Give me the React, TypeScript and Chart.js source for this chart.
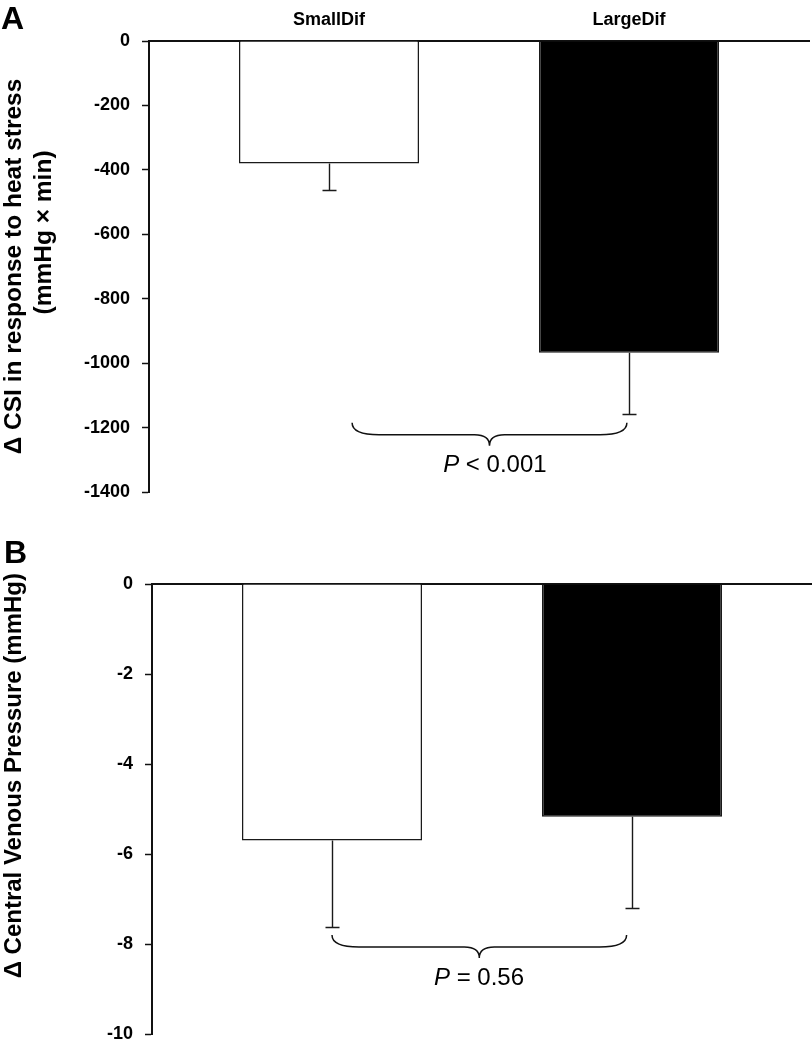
import React, { useEffect, useRef } from 'react';
import { Chart, registerables } from 'chart.js';

Chart.register(...registerables);

// ---------- data ----------
const categories = ['SmallDif', 'LargeDif'];
const barColors = ['#ffffff', '#000000'];

// Panel A: Δ CSI (mmHg × min)
const csiMeans = [-380, -968];
const csiErrors = [84, 189];
const csiTicks = [0, -200, -400, -600, -800, -1000, -1200, -1400];
const csiTitle = ['Δ CSI in response to heat stress', '          (mmHg × min)'];
const csiPLabel = ['P', ' < 0.001'];

// Panel B: Δ Central Venous Pressure (mmHg)
const cvpMeans = [-5.7, -5.17];
const cvpErrors = [1.92, 2.03];
const cvpTicks = [0, -2, -4, -6, -8, -10];
const cvpTitle = '          Δ Central Venous Pressure (mmHg)';
const cvpPLabel = ['P', ' = 0.56'];

const FONT = '"Liberation Sans", Arial, Helvetica, sans-serif';

const extrasPlugin = {
  id: 'panelExtras',
  afterDraw(chart: any, _args: any, opts: any) {
    const { ctx } = chart;
    const xs = chart.scales.x;
    const ys = chart.scales.y;
    const meta = chart.getDatasetMeta(0);
    const pts = chart.data.datasets[0].data as any[];
    ctx.save();
    // error bars (downward)
    ctx.strokeStyle = '#1a1a1a';
    ctx.lineWidth = 1.4;
    meta.data.forEach((bar: any, i: number) => {
      const m = pts[i].y;
      const e = opts.errors[i];
      const x = Math.round(bar.x) + 0.5;
      const y0 = ys.getPixelForValue(m);
      const y1 = Math.round(ys.getPixelForValue(m - e)) + 0.5;
      ctx.beginPath();
      ctx.moveTo(x, y0);
      ctx.lineTo(x, y1);
      ctx.moveTo(x - 7, y1);
      ctx.lineTo(x + 7, y1);
      ctx.stroke();
    });
    // curly brace
    const b = opts.brace;
    const xl = xs.getPixelForValue(b.from);
    const xr = xs.getPixelForValue(b.to);
    const yt = ys.getPixelForValue(b.y);
    const xm = (xl + xr) / 2;
    const y1 = yt + 12;
    const y2 = yt + 23;
    const r = 27;
    const r2 = 15;
    ctx.lineWidth = 1.5;
    ctx.strokeStyle = '#111';
    ctx.beginPath();
    ctx.moveTo(xl, yt);
    ctx.quadraticCurveTo(xl, y1, xl + r, y1);
    ctx.lineTo(xm - r2, y1);
    ctx.quadraticCurveTo(xm, y1, xm, y2);
    ctx.quadraticCurveTo(xm, y1, xm + r2, y1);
    ctx.lineTo(xr - r, y1);
    ctx.quadraticCurveTo(xr, y1, xr, yt);
    ctx.stroke();
    // P label
    const tx = xs.getPixelForValue(b.textX);
    const ty = ys.getPixelForValue(b.textY);
    ctx.fillStyle = '#000';
    ctx.textBaseline = 'middle';
    ctx.textAlign = 'left';
    ctx.font = `italic 24px ${FONT}`;
    const w1 = ctx.measureText(b.text[0]).width;
    ctx.font = `24px ${FONT}`;
    const w2 = ctx.measureText(b.text[1]).width;
    const sx = tx - (w1 + w2) / 2;
    ctx.font = `italic 24px ${FONT}`;
    ctx.fillText(b.text[0], sx, ty);
    ctx.font = `24px ${FONT}`;
    ctx.fillText(b.text[1], sx + w1, ty);
    // panel letter
    ctx.font = `bold 32px ${FONT}`;
    ctx.textBaseline = 'alphabetic';
    ctx.fillText(opts.letter, opts.letterX, opts.letterY);
    ctx.restore();
  },
};

function makeConfig(p: {
  means: number[];
  errors: number[];
  ticks: number[];
  title: string | string[];
  titleSize: number;
  showCats: boolean;
  axisLeft: number;
  areaTop: number;
  padRight: number;
  padBottom: number;
  brace: any;
  letter: string;
  letterX: number;
  letterY: number;
}) {
  return {
    type: 'bar' as const,
    data: {
      datasets: [
        {
          data: p.means.map((v, i) => ({ x: i + 1, y: v })),
          backgroundColor: barColors,
          borderColor: '#1a1a1a',
          borderWidth: 1.5,
          categoryPercentage: 1,
          barPercentage: 0.6,
        },
      ],
    },
    options: {
      responsive: false,
      animation: false,
      devicePixelRatio: 1,
      layout: { padding: { left: 0, top: 0, right: p.padRight, bottom: p.padBottom } },
      plugins: {
        legend: { display: false },
        tooltip: { enabled: false },
        panelExtras: {
          errors: p.errors,
          brace: p.brace,
          letter: p.letter,
          letterX: p.letterX,
          letterY: p.letterY,
        },
      },
      scales: {
        x: {
          type: 'linear',
          position: 'top',
          offset: false,
          min: 0.4,
          max: 2.6,
          afterBuildTicks: (s: any) => {
            s.ticks = categories.map((_, i) => ({ value: i + 1 }));
          },
          afterFit: (s: any) => {
            s.height = p.areaTop;
            s.paddingLeft = 0;
            s.paddingRight = 0;
          },
          ticks: {
            display: p.showCats,
            autoSkip: false,
            maxRotation: 0,
            padding: 10,
            color: '#000',
            font: { family: FONT, size: 18, weight: 'bold' },
            callback: (v: any) => categories[Math.round(v) - 1] ?? '',
          },
          grid: { display: false, drawTicks: false, offset: false },
          border: { display: true, color: '#111', width: 2 },
        },
        y: {
          type: 'linear',
          min: p.ticks[p.ticks.length - 1],
          max: p.ticks[0],
          afterBuildTicks: (s: any) => {
            s.ticks = p.ticks.map((v) => ({ value: v }));
          },
          afterFit: (s: any) => {
            s.width = p.axisLeft;
            s.paddingTop = 0;
            s.paddingBottom = 0;
          },
          ticks: {
            padding: 12,
            color: '#000',
            font: { family: FONT, size: 18, weight: 'bold' },
            callback: (v: any) => String(v),
          },
          grid: {
            drawOnChartArea: false,
            drawTicks: true,
            tickLength: 7,
            tickColor: '#111',
            tickWidth: 1.5,
          },
          border: { display: true, color: '#111', width: 2 },
          title: {
            display: true,
            text: p.title,
            color: '#000',
            padding: { top: 0, bottom: 0 },
            font: { family: FONT, size: p.titleSize, weight: 'bold', lineHeight: 1.2 },
          },
        },
      },
    },
    plugins: [extrasPlugin],
  };
}

function Panel(props: { config: any; top: number; height: number }) {
  const ref = useRef<HTMLCanvasElement | null>(null);
  useEffect(() => {
    if (!ref.current) return;
    const chart = new Chart(ref.current, props.config);
    return () => chart.destroy();
  }, []);
  return (
    <canvas
      ref={ref}
      width={812}
      height={props.height}
      style={{ position: 'absolute', left: 0, top: props.top, width: 812, height: props.height, display: 'block' }}
    />
  );
}

export default function App() {
  const configA = makeConfig({
    means: csiMeans,
    errors: csiErrors,
    ticks: csiTicks,
    title: csiTitle,
    titleSize: 24.5,
    showCats: true,
    axisLeft: 149,
    areaTop: 41,
    padRight: 3,
    padBottom: 8,
    brace: { from: 1.077, to: 1.993, y: -1185, textX: 1.553, textY: -1318, text: csiPLabel },
    letter: 'A',
    letterX: 1,
    letterY: 29,
  });
  const configB = makeConfig({
    means: cvpMeans,
    errors: cvpErrors,
    ticks: cvpTicks,
    title: cvpTitle,
    titleSize: 24,
    showCats: false,
    axisLeft: 152,
    areaTop: 84,
    padRight: 0,
    padBottom: 9,
    brace: { from: 1.0, to: 1.982, y: -7.8, textX: 1.49, textY: -8.76, text: cvpPLabel },
    letter: 'B',
    letterX: 4,
    letterY: 63,
  });
  return (
    <div style={{ position: 'absolute', left: 0, top: 0, width: 812, height: 1043, background: '#fff', overflow: 'hidden' }}>
      <Panel config={configA} top={0} height={500} />
      <Panel config={configB} top={500} height={543} />
    </div>
  );
}
